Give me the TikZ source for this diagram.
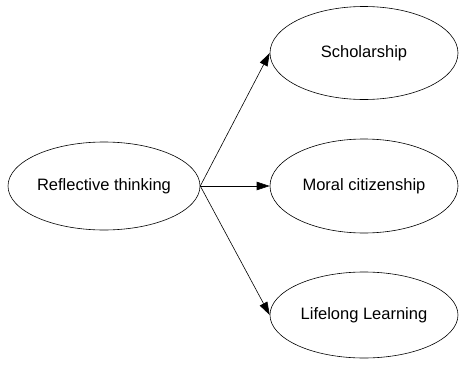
\documentclass[tikz,border=0pt]{standalone}
\usepackage{fontspec}
\setmainfont{Liberation Sans}
\usetikzlibrary{shapes.geometric,arrows.meta}

\tikzset{
  bubble/.style={draw=black, ellipse, line width=0.6pt, minimum width=188pt,
    minimum height=90pt, inner sep=0pt, font=\fontsize{16.5}{19}\selectfont},
  link/.style={-{Triangle[length=13pt,width=8.5pt]}, line width=0.6pt}
}

\begin{document}
\begin{tikzpicture}[x=1pt,y=-1pt]
                \useasboundingbox (0,0) rectangle (459,367);
                % Draw the source ellipse
                \node[bubble, minimum width=192pt, minimum height=88pt] (reflect) at (104,186) {Reflective thinking};
                % Draw the three outcome ellipses
                \node[bubble, minimum height=93pt] (scholar) at (364,53) {Scholarship};
                \node[bubble, minimum height=94pt] (moral) at (364,186) {Moral citizenship};
                \node[bubble, minimum height=86pt] (lifelong) at (364,315) {Lifelong Learning};
                % Draw the arrows out of the source
                \foreach \t in {scholar,moral,lifelong}{
                    \draw[link] (reflect.east) -- (\t.west);
                }
            \end{tikzpicture}
\end{document}
